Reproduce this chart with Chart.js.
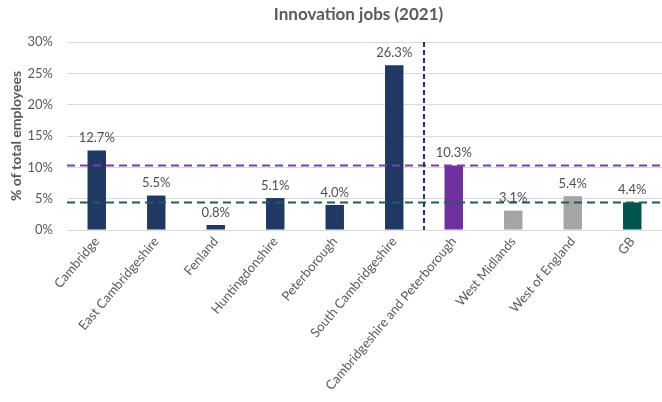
<!DOCTYPE html>
<html>
<head>
<meta charset="utf-8">
<script src="https://cdn.jsdelivr.net/npm/chart.js@4"></script>
<style>
  html, body { margin: 0; padding: 0; background: #fff; }
  #wrap { width: 662px; height: 402px; }
</style>
</head>
<body>
<div id="wrap"><canvas id="jobs" width="662" height="402"></canvas></div>
<script>
// data
var areas = ['Cambridge', 'East Cambridgeshire', 'Fenland', 'Huntingdonshire', 'Peterborough',
  'South Cambridgeshire', 'Cambridgeshire and Peterborough', 'West Midlands', 'West of England', 'GB'];
var jobShare = [12.7, 5.5, 0.8, 5.1, 4.0, 26.3, 10.3, 3.1, 5.4, 4.4];
var barColours = ['#1f3864', '#1f3864', '#1f3864', '#1f3864', '#1f3864', '#1f3864',
  '#7030a0', '#a5a5a5', '#a5a5a5', '#00544f'];
var cpAverage = 10.3;   // Cambridgeshire and Peterborough reference line
var gbAverage = 4.4;    // GB reference line
var yTicks = [0, 5, 10, 15, 20, 25, 30];

var textGrey = '#595959';
var font = 'Lato, "Open Sans", sans-serif';

// labels over bars, dashed reference lines and the title
var extras = {
  id: 'extras',
  afterDatasetsDraw(chart) {
    var ctx = chart.ctx;
    var area = chart.chartArea;
    var x = chart.scales.x, y = chart.scales.y;
    var bars = chart.getDatasetMeta(0).data;

    ctx.save();
    ctx.font = '13px ' + font;
    ctx.fillStyle = '#505050';
    ctx.textAlign = 'center';
    ctx.textBaseline = 'bottom';
    bars.forEach(function(bar, i) {
      ctx.fillText(jobShare[i].toFixed(1) + '%', bar.x, bar.y - 6);
    });

    ctx.lineWidth = 2;
    ctx.setLineDash([8, 5]);
    ctx.strokeStyle = '#7b3fa6';
    var py = y.getPixelForValue(cpAverage);
    ctx.beginPath(); ctx.moveTo(area.left, py); ctx.lineTo(area.right, py); ctx.stroke();

    ctx.strokeStyle = '#1f5f5a';
    var gy = y.getPixelForValue(gbAverage);
    ctx.beginPath(); ctx.moveTo(area.left, gy); ctx.lineTo(area.right, gy); ctx.stroke();

    // split between the districts and the comparators
    var vx = (x.getPixelForValue(5) + x.getPixelForValue(6)) / 2;
    ctx.setLineDash([5, 3]);
    ctx.strokeStyle = '#1f3864';
    ctx.beginPath(); ctx.moveTo(vx, area.top); ctx.lineTo(vx, area.bottom); ctx.stroke();

    ctx.setLineDash([]);
    ctx.font = 'bold 17px ' + font;
    ctx.fillStyle = textGrey;
    ctx.textBaseline = 'middle';
    ctx.fillText('Innovation jobs (2021)', (area.left + area.right) / 2 - 6, 15);
    ctx.restore();
  }
};

new Chart('jobs', {
  type: 'bar',
  plugins: [extras],
  data: {
    labels: areas,
    datasets: [{
      data: jobShare,
      backgroundColor: barColours,
      borderWidth: 0,
      barPercentage: 0.31,
      categoryPercentage: 1
    }]
  },
  options: {
    responsive: false,
    animation: false,
    layout: { padding: { top: 42, right: 0, left: 6, bottom: 0 } },
    plugins: {
      legend: { display: false },
      tooltip: { enabled: false },
      title: { display: false }
    },
    scales: {
      x: {
        grid: { display: false, drawTicks: false },
        border: { color: '#d9d9d9' },
        ticks: {
          autoSkip: false,
          minRotation: 50,
          maxRotation: 50,
          color: textGrey,
          font: { family: font, size: 13 },
          padding: 4
        },
        afterFit(scale) { scale.height = 172; }
      },
      y: {
        min: 0,
        max: 30,
        afterBuildTicks(scale) { scale.ticks = yTicks.map(function(v) { return { value: v }; }); },
        grid: { color: '#d9d9d9', drawTicks: false },
        border: { display: false },
        ticks: {
          color: textGrey,
          font: { family: font, size: 13 },
          padding: 14,
          callback: function(v) { return v + '%'; }
        },
        title: {
          display: true,
          text: '% of total employees',
          color: textGrey,
          font: { family: font, size: 14, weight: 'bold' },
          padding: { top: 2, bottom: 0 }
        },
        afterFit(scale) { scale.width = 61; }
      }
    }
  }
});
</script>
</body>
</html>
